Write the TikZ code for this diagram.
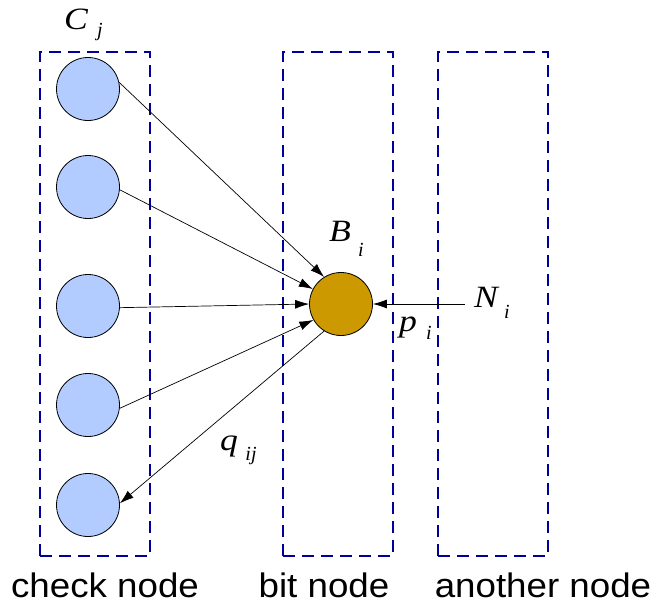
\documentclass[tikz,border=0pt]{standalone}
\usepackage{fontspec}
\setmainfont{Liberation Serif}
\setsansfont{Liberation Sans}
\usetikzlibrary{arrows.meta}
\definecolor{cnode}{HTML}{B3CCFF}
\definecolor{bnode}{HTML}{CC9900}
\definecolor{boxblue}{HTML}{000099}
\newcommand{\wideit}[1]{\scalebox{1.15}[1]{#1}}
\newcommand{\widesf}[1]{\scalebox{1.08}[1]{#1}}
\tikzset{
  groupbox/.style={draw=boxblue, line width=1.8pt, dash pattern=on 12pt off 7pt},
  checkc/.style={circle, draw=black, line width=0.8pt, fill=cnode, minimum size=63pt, inner sep=0pt},
  bitc/.style={circle, draw=black, line width=0.8pt, fill=bnode, minimum size=63pt, inner sep=0pt},
  conn/.style={draw=black, line width=0.7pt, -{Latex[length=14pt,width=9pt]}},
  caption/.style={font=\sffamily\fontsize{34}{34}\selectfont, anchor=base, inner sep=0pt},
  mainl/.style={font=\fontsize{31}{31}\selectfont\itshape, anchor=base, inner sep=0pt},
  subl/.style={font=\fontsize{20}{20}\selectfont\itshape, anchor=base, inner sep=0pt}
}
\begin{document}
\begin{tikzpicture}[x=1pt,y=-1pt]
\useasboundingbox (0,0) rectangle (656,608);
% boxes
\node[groupbox, minimum width=110pt, minimum height=504pt, inner sep=0pt] (boxc) at (95,304) {};
\node[groupbox, minimum width=110pt, minimum height=504pt, inner sep=0pt] (boxb) at (338,304) {};
\node[groupbox, minimum width=110pt, minimum height=504pt, inner sep=0pt] (boxa) at (493,304) {};
% check nodes
\node[checkc] (c1) at (88,89) {};
\node[checkc] (c2) at (88,187) {};
\node[checkc] (c3) at (88,306) {};
\node[checkc] (c4) at (88,405) {};
\node[checkc] (c5) at (88,505) {};
% bit node
\node[bitc] (b) at (341,304) {};
% N_i source
\coordinate (nsrc) at (465,304);
% connectors
\draw[conn] (c1.12) -- (b.122);
\draw[conn] (c2.-5) -- (b.152);
\draw[conn] (c3.-3) -- (b.180);
\draw[conn] (c4.-6) -- (b.210);
\draw[conn] (b.238) -- (c5.3);
\draw[conn] (nsrc) -- (b.east);
% labels
\node[mainl] (lC) at (76,29) {\wideit{C}};
\node[subl] (lCj) at (100,36) {j};
\node[mainl] (lB) at (340,241) {\wideit{B}};
\node[subl] (lBi) at (361,256) {i};
\node[mainl] (lN) at (486,307) {\wideit{N}};
\node[subl] (lNi) at (507,318) {i};
\node[mainl] (lp) at (408,331) {\wideit{p}};
\node[subl] (lpi) at (429,339) {i};
\node[mainl] (lq) at (229,450) {\wideit{q}};
\node[subl] (lqij) at (251,460) {ij};
% captions
\node[caption] (capc) at (105,597) {\widesf{check node}};
\node[caption] (capb) at (324,597) {\widesf{bit node}};
\node[caption] (capa) at (543,597) {\widesf{another node}};
\end{tikzpicture}
\end{document}
